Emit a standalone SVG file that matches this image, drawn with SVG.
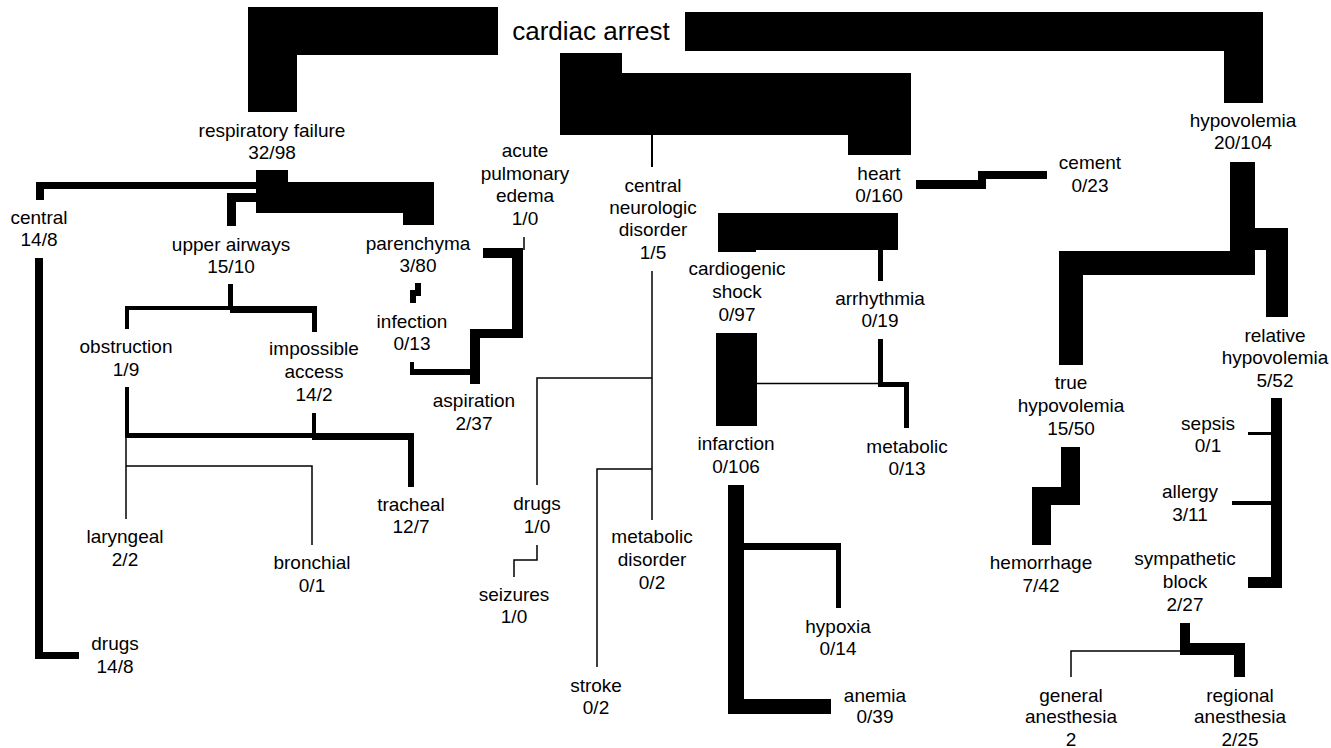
<svg xmlns="http://www.w3.org/2000/svg" width="1331" height="748" viewBox="0 0 1331 748">
<style>
text{font-family:"Liberation Sans",Arial,sans-serif;font-size:19px;text-anchor:middle;fill:#000}
.big{font-size:26px}
.c{fill:#000;stroke:none}
.th{fill:none;stroke:#000;stroke-width:1.5}
.md{fill:none;stroke:#000;stroke-width:4}
</style>
<rect width="1331" height="748" fill="#fff"/>
<g id="connectors">
<polygon class="c" points="248,7 498,7 498,55 297,55 297,112 248,112"/>
<polygon class="c" points="685,12 1263,12 1263,103 1224,103 1224,51 685,51"/>
<polygon class="c" points="560,53 622,53 622,73 911,73 911,155 848,155 848,135 560,135"/>
<line class="th" x1="652" y1="135" x2="652" y2="167" style="stroke-width:2"/>
<polygon class="c" points="256,170 288,170 288,182 434,182 434,225 403,225 403,213 256,213"/>
<polygon class="c" points="36,182 256,182 256,189 44,189 44,200 36,200"/>
<polygon class="c" points="227,193 256,193 256,202 236,202 236,226 227,226"/>
<polygon class="c" points="35,258 43,258 43,652 79,652 79,659 35,659"/>
<rect class="c" x="228" y="284" width="5" height="26"/>
<polyline class="md" points="127,329 127,308 230,308"/>
<polygon class="c" points="230,306 317,306 317,332 312,332 312,313 230,313"/>
<rect class="c" x="125" y="387" width="4" height="51"/>
<rect class="c" x="312" y="413" width="4" height="23"/>
<rect class="c" x="125" y="433" width="187" height="5"/>
<rect class="c" x="312" y="433" width="102" height="7"/>
<rect class="c" x="408" y="433" width="6" height="54"/>
<polyline class="th" points="126,438 126,519"/>
<polyline class="th" points="126,466 312,466 312,545"/>
<rect class="c" x="415" y="283" width="6" height="13"/>
<rect class="c" x="410" y="290" width="6" height="13"/>
<polygon class="c" points="410,362 414,362 414,369 470,369 470,375 410,375"/>
<polygon class="c" points="483,248 523,248 523,338 480,338 480,384 470,384 470,329 512,329 512,258 483,258"/>
<line class="th" x1="524" y1="237" x2="524" y2="250"/>
<line class="th" x1="652" y1="271" x2="652" y2="520"/>
<polyline class="th" points="652,378 537,378 537,485"/>
<polyline class="th" points="652,469 597,469 597,667"/>
<polyline class="th" points="537,545 537,560 514,560 514,577"/>
<polygon class="c" points="718,213 898,213 898,250 756,250 756,252 718,252"/>
<rect class="c" x="878" y="250" width="5" height="31"/>
<polygon class="c" points="878,339 883,339 883,382 909,382 909,428 904,428 904,387 878,387"/>
<rect class="c" x="716" y="333" width="41" height="93"/>
<line class="th" x1="757" y1="383.5" x2="880" y2="383.5"/>
<polygon class="c" points="728,485 744,485 744,699 831,699 831,714 728,714"/>
<polygon class="c" points="744,543 841,543 841,608 836,608 836,550 744,550"/>
<polygon class="c" points="916,180 978,180 978,171 1047,171 1047,179 986,179 986,189 916,189"/>
<polygon class="c" points="1230,162 1255,162 1255,275 1083,275 1083,365 1059,365 1059,251 1230,251"/>
<polygon class="c" points="1255,228 1288,228 1288,317 1266,317 1266,250 1255,250"/>
<polygon class="c" points="1061,447 1080,447 1080,505 1051,505 1051,545 1032,545 1032,487 1061,487"/>
<rect class="c" x="1271" y="398" width="11" height="190"/>
<rect class="c" x="1248" y="577" width="34" height="11"/>
<rect class="c" x="1248" y="432" width="23" height="3"/>
<rect class="c" x="1232" y="501" width="39" height="4"/>
<polygon class="c" points="1180,623 1190,623 1190,643 1245,643 1245,677 1234,677 1234,655 1180,655"/>
<polyline class="th" points="1180,651 1071,651 1071,677"/>
</g>
<g id="n-cardiac-arrest"><text class="big" x="591" y="40">cardiac arrest</text></g>
<g id="n-respiratory-failure"><text><tspan x="272" y="137">respiratory failure</tspan><tspan x="272" y="159">32/98</tspan></text></g>
<g id="n-central"><text><tspan x="39" y="224">central</tspan><tspan x="39" y="246">14/8</tspan></text></g>
<g id="n-upper-airways"><text><tspan x="231" y="251">upper airways</tspan><tspan x="231" y="273">15/10</tspan></text></g>
<g id="n-parenchyma"><text><tspan x="418" y="250">parenchyma</tspan><tspan x="418" y="272">3/80</tspan></text></g>
<g id="n-acute-pulmonary-edema"><text><tspan x="525" y="157">acute</tspan><tspan x="525" y="180">pulmonary</tspan><tspan x="525" y="202">edema</tspan><tspan x="525" y="225">1/0</tspan></text></g>
<g id="n-central-neurologic"><text><tspan x="653" y="192">central</tspan><tspan x="653" y="214">neurologic</tspan><tspan x="653" y="236">disorder</tspan><tspan x="653" y="259">1/5</tspan></text></g>
<g id="n-heart"><text><tspan x="879" y="180">heart</tspan><tspan x="879" y="202">0/160</tspan></text></g>
<g id="n-cement"><text><tspan x="1090" y="169">cement</tspan><tspan x="1090" y="192">0/23</tspan></text></g>
<g id="n-hypovolemia"><text><tspan x="1243" y="127">hypovolemia</tspan><tspan x="1243" y="149">20/104</tspan></text></g>
<g id="n-obstruction"><text><tspan x="126" y="353">obstruction</tspan><tspan x="126" y="376">1/9</tspan></text></g>
<g id="n-impossible-access"><text><tspan x="314" y="355">impossible</tspan><tspan x="314" y="378">access</tspan><tspan x="314" y="401">14/2</tspan></text></g>
<g id="n-infection"><text><tspan x="412" y="328">infection</tspan><tspan x="412" y="350">0/13</tspan></text></g>
<g id="n-aspiration"><text><tspan x="474" y="407">aspiration</tspan><tspan x="474" y="430">2/37</tspan></text></g>
<g id="n-cardiogenic-shock"><text><tspan x="737" y="275">cardiogenic</tspan><tspan x="737" y="298">shock</tspan><tspan x="737" y="321">0/97</tspan></text></g>
<g id="n-arrhythmia"><text><tspan x="880" y="305">arrhythmia</tspan><tspan x="880" y="327">0/19</tspan></text></g>
<g id="n-infarction"><text><tspan x="736" y="450">infarction</tspan><tspan x="736" y="473">0/106</tspan></text></g>
<g id="n-metabolic"><text><tspan x="907" y="453">metabolic</tspan><tspan x="907" y="475">0/13</tspan></text></g>
<g id="n-true-hypovolemia"><text><tspan x="1071" y="389">true</tspan><tspan x="1071" y="412">hypovolemia</tspan><tspan x="1071" y="435">15/50</tspan></text></g>
<g id="n-relative-hypovolemia"><text><tspan x="1275" y="342">relative</tspan><tspan x="1275" y="364">hypovolemia</tspan><tspan x="1275" y="387">5/52</tspan></text></g>
<g id="n-sepsis"><text><tspan x="1208" y="430">sepsis</tspan><tspan x="1208" y="452">0/1</tspan></text></g>
<g id="n-allergy"><text><tspan x="1190" y="498">allergy</tspan><tspan x="1190" y="521">3/11</tspan></text></g>
<g id="n-sympathetic-block"><text><tspan x="1185" y="565">sympathetic</tspan><tspan x="1185" y="588">block</tspan><tspan x="1185" y="611">2/27</tspan></text></g>
<g id="n-hemorrhage"><text><tspan x="1041" y="569">hemorrhage</tspan><tspan x="1041" y="592">7/42</tspan></text></g>
<g id="n-tracheal"><text><tspan x="411" y="511">tracheal</tspan><tspan x="411" y="533">12/7</tspan></text></g>
<g id="n-laryngeal"><text><tspan x="125" y="543">laryngeal</tspan><tspan x="125" y="566">2/2</tspan></text></g>
<g id="n-bronchial"><text><tspan x="312" y="569">bronchial</tspan><tspan x="312" y="592">0/1</tspan></text></g>
<g id="n-drugs-resp"><text><tspan x="115" y="650">drugs</tspan><tspan x="115" y="673">14/8</tspan></text></g>
<g id="n-drugs-neuro"><text><tspan x="537" y="510">drugs</tspan><tspan x="537" y="533">1/0</tspan></text></g>
<g id="n-seizures"><text><tspan x="514" y="601">seizures</tspan><tspan x="514" y="623">1/0</tspan></text></g>
<g id="n-metabolic-disorder"><text><tspan x="652" y="543">metabolic</tspan><tspan x="652" y="566">disorder</tspan><tspan x="652" y="589">0/2</tspan></text></g>
<g id="n-stroke"><text><tspan x="596" y="692">stroke</tspan><tspan x="596" y="714">0/2</tspan></text></g>
<g id="n-hypoxia"><text><tspan x="838" y="633">hypoxia</tspan><tspan x="838" y="655">0/14</tspan></text></g>
<g id="n-anemia"><text><tspan x="875" y="702">anemia</tspan><tspan x="875" y="723">0/39</tspan></text></g>
<g id="n-general-anesthesia"><text><tspan x="1071" y="702">general</tspan><tspan x="1071" y="723">anesthesia</tspan><tspan x="1071" y="746">2</tspan></text></g>
<g id="n-regional-anesthesia"><text><tspan x="1240" y="702">regional</tspan><tspan x="1240" y="723">anesthesia</tspan><tspan x="1240" y="746">2/25</tspan></text></g>
</svg>
